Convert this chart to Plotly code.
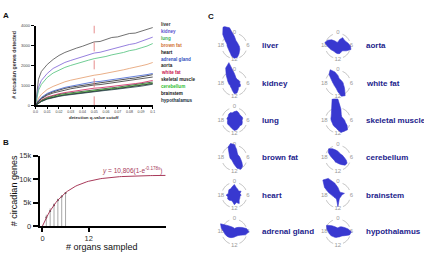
import math
import plotly.graph_objects as go

W, H = 424, 259
def fx(x): return x / W
def fy(y): return 1 - y / H

# ---------------- Panel A data ----------------
q_cutoff = [0, 0.0025, 0.005, 0.01, 0.015, 0.02, 0.025, 0.03, 0.035, 0.04, 0.045,
            0.05, 0.055, 0.06, 0.065, 0.07, 0.075, 0.08, 0.085, 0.09, 0.095, 0.1]
q_threshold = 0.05
organs = ["liver", "kidney", "lung", "brown fat", "heart", "adrenal gland", "aorta",
          "white fat", "skeletal muscle", "cerebellum", "brainstem", "hypothalamus"]
liver = [0, 1300, 1700, 2050, 2300, 2500, 2650, 2780, 2870, 2960, 3080, 3180, 3200, 3300, 3400, 3430, 3520, 3600, 3620, 3720, 3800, 3900]
kidney = [0, 900, 1250, 1600, 1850, 2000, 2150, 2250, 2350, 2430, 2520, 2620, 2660, 2740, 2830, 2880, 2960, 3050, 3100, 3200, 3300, 3420]
lung = [0, 750, 1050, 1400, 1620, 1780, 1900, 2000, 2100, 2180, 2260, 2340, 2380, 2450, 2530, 2580, 2650, 2740, 2790, 2880, 2970, 3100]
brown_fat = [0, 350, 550, 800, 950, 1080, 1180, 1260, 1330, 1400, 1450, 1510, 1550, 1600, 1680, 1720, 1780, 1850, 1900, 1980, 2050, 2150]
heart = [0, 220, 360, 560, 680, 770, 850, 910, 960, 1010, 1060, 1110, 1130, 1170, 1220, 1250, 1290, 1340, 1370, 1420, 1470, 1540]
adrenal_gland = [0, 250, 400, 600, 720, 820, 900, 960, 1020, 1080, 1130, 1180, 1200, 1240, 1290, 1320, 1360, 1410, 1440, 1490, 1540, 1600]
aorta = [0, 200, 330, 510, 620, 700, 770, 830, 880, 930, 970, 1020, 1040, 1080, 1120, 1150, 1190, 1240, 1270, 1310, 1360, 1420]
white_fat = [0, 160, 270, 420, 510, 580, 640, 690, 730, 770, 810, 860, 880, 910, 950, 980, 1020, 1060, 1090, 1130, 1180, 1250]
skeletal_muscle = [0, 140, 240, 380, 470, 540, 590, 630, 670, 710, 750, 790, 810, 850, 880, 910, 950, 990, 1020, 1060, 1110, 1170]
cerebellum = [0, 130, 220, 350, 440, 500, 550, 590, 630, 670, 710, 750, 770, 810, 840, 870, 910, 950, 980, 1020, 1070, 1120]
brainstem = [0, 120, 200, 330, 410, 470, 520, 560, 600, 640, 680, 720, 740, 780, 810, 840, 880, 920, 950, 990, 1040, 1090]
hypothalamus = [0, 110, 190, 310, 390, 450, 500, 540, 580, 620, 660, 700, 720, 750, 780, 810, 850, 890, 920, 960, 1010, 1060]
a_series = [liver, kidney, lung, brown_fat, heart, adrenal_gland, aorta, white_fat,
            skeletal_muscle, cerebellum, brainstem, hypothalamus]
a_line_colors = ["#4d4d4d", "#7b5fd6", "#4cc07a", "#e39a6a", "#222222", "#3f5fcf",
                 "#333333", "#d0215a", "#2b3b2b", "#44cc33", "#1a1a1a", "#26464a"]
a_text_colors = ["#333333", "#5b4fcf", "#3cb05a", "#d07030", "#111111", "#3050c0",
                 "#222222", "#c8104a", "#222222", "#30c030", "#111111", "#203040"]
a_xticks = [0, 0.01, 0.02, 0.03, 0.04, 0.05, 0.06, 0.07, 0.08, 0.09, 0.1]
a_xticktext = ["0.0", "0.01", "0.02", "0.03", "0.04", "0.05", "0.06", "0.07", "0.08", "0.09", "0.1"]
a_yticks = [0, 1000, 2000, 3000, 4000]

# ---------------- Panel B data ----------------
n_sampled = [1, 2, 3, 4, 5, 6]
range_top = [2400, 3770, 4800, 5820, 6500, 7200]
mean_genes = [1800, 3200, 4400, 5500, 6300, 7000]
fit_A = 10806
fit_k = 0.178
fit_x = [i * 0.5 for i in range(0, 65)]
b_yticks = [0, 5000, 10000, 15000]
b_yticktext = ["0", "5k", "10k", "15k"]
b_xticks = [0, 12]

# ---------------- Panel C data (phase distributions, 24 h bins) ----------------
hours = list(range(24))
phase = {
    "liver": [10, 6, 5, 4.5, 4.4, 4.4, 5, 5.5, 6.5, 7.5, 9.5, 12, 12.7, 11, 8.5, 7.5, 7, 7, 7.5, 8, 11, 17, 23.5, 19.5],
    "kidney": [10, 6, 5, 5, 5.5, 6, 5.5, 6.5, 7, 6, 8, 10.5, 11, 8, 6, 5.5, 5, 5.5, 6, 7, 8.5, 12, 18, 22],
    "lung": [9, 10, 9, 8, 8.5, 9, 8, 8.5, 9, 8, 9, 10, 10.5, 9, 8, 7.5, 8, 7.5, 7, 8, 7.5, 8.5, 9, 8],
    "brown fat": [14, 9, 6, 5, 5, 5.5, 6, 7, 9, 12, 13.5, 11, 7, 5, 4, 3.5, 3.5, 4, 4.5, 5, 6, 8, 13, 15.5],
    "heart": [11, 8, 7, 6, 8, 6, 7, 6, 6.5, 7, 10, 8, 10, 7, 6.5, 7.5, 8, 7, 8.5, 6.5, 7, 8, 7.5, 9],
    "adrenal gland": [3.5, 4, 5, 6.5, 9, 13, 15, 12, 7, 5.5, 5, 5, 5.5, 6, 7, 8, 9, 10, 11, 14, 16.5, 9, 6, 4.5],
    "aorta": [4, 7, 10, 9, 9.5, 11, 13, 14, 10, 7, 7, 8, 8, 7.5, 7, 7, 8, 9, 11, 14, 12, 9, 6, 4],
    "white fat": [8, 5, 4.5, 4.5, 4.5, 5, 5.5, 6, 7.5, 10, 15, 14, 9, 6, 5, 4.5, 4.5, 4.5, 5, 6, 8, 13, 16, 12],
    "skeletal muscle": [22, 12, 7, 5.5, 5.5, 6, 7, 8, 11, 14, 13, 13, 10, 8, 7.5, 7, 6.5, 6.5, 7, 7.5, 8, 9.5, 13, 23],
    "cerebellum": [7, 5.5, 5, 5, 5.5, 6, 7, 9, 11, 10.5, 8, 6.5, 5.5, 5, 5, 4.5, 4.5, 5, 6, 8, 11.5, 13.5, 11, 8.5],
    "brainstem": [8, 5, 4, 4, 5, 7, 4, 3.5, 3.5, 3.5, 3.5, 5, 12, 5, 4, 4, 4.5, 5, 6.5, 10, 16, 22, 20, 13],
    "hypothalamus": [4, 5, 6, 7, 8.5, 11, 14, 12.5, 8, 6, 5.5, 5.5, 5.5, 6, 6.5, 7, 8, 9, 10, 12, 13.5, 9, 6, 4.5],
}
c_left = ["liver", "kidney", "lung", "brown fat", "heart", "adrenal gland"]
c_right = ["aorta", "white fat", "skeletal muscle", "cerebellum", "brainstem", "hypothalamus"]
clock_labels = ["0", "6", "12", "18"]
clock_hours = [0, 6, 12, 18]

fig = go.Figure()

def note(x, y, text, size, color, xanchor="center", yanchor="middle", angle=0):
    fig.add_annotation(x=fx(x), y=fy(y), xref="paper", yref="paper", text=text, showarrow=False,
                       xanchor=xanchor, yanchor=yanchor, textangle=angle,
                       font=dict(size=size, color=color, family="Liberation Sans"))

# ---- Panel A traces
for name, vals, col in zip(organs, a_series, a_line_colors):
    fig.add_trace(go.Scatter(x=q_cutoff, y=vals, mode="lines", line=dict(color=col, width=0.8),
                             xaxis="x", yaxis="y", name=name, hoverinfo="skip"))
fig.add_shape(type="line", xref="x", yref="y", x0=q_threshold, x1=q_threshold, y0=0, y1=4000,
              line=dict(color="#e07070", width=0.8, dash="dash"))

# ---- Panel B traces
seg_x, seg_y = [], []
for n, t in zip(n_sampled, range_top):
    seg_x += [n, n, None]
    seg_y += [0, t, None]
fig.add_trace(go.Scatter(x=seg_x, y=seg_y, mode="lines", line=dict(color="#a8a8a8", width=1),
                         xaxis="x2", yaxis="y2", hoverinfo="skip"))
fig.add_trace(go.Scatter(x=n_sampled, y=mean_genes, mode="markers",
                         marker=dict(color="#555555", size=2), xaxis="x2", yaxis="y2", hoverinfo="skip"))
fit_y = [fit_A * (1 - math.exp(-fit_k * x)) for x in fit_x]
fig.add_trace(go.Scatter(x=fit_x, y=fit_y, mode="lines", line=dict(color="#a83a5a", width=1),
                         xaxis="x2", yaxis="y2", hoverinfo="skip"))

# ---- Panel C polar subplots
row_y = [43.5, 82, 120.5, 159.5, 198, 236]
col_x = [234.7, 339.7]
R = 23
ring_r = 13
arc_theta = []
for start in [0, 90, 180, 270]:
    arc_theta += [start + d for d in range(22, 70, 4)] + [None]
polar_layouts = {}
idx = 0
for ci, names in enumerate([c_left, c_right]):
    for ri, name in enumerate(names):
        idx += 1
        key = "polar" if idx == 1 else f"polar{idx}"
        cx, cy = col_x[ci], row_y[ri]
        polar_layouts[key] = dict(
            domain=dict(x=[fx(cx - R), fx(cx + R)], y=[max(0, fy(cy + R)), min(1, fy(cy - R))]),
            bgcolor="rgba(0,0,0,0)",
            radialaxis=dict(visible=False, range=[0, R]),
            angularaxis=dict(visible=False, rotation=90, direction="clockwise"),
        )
        fig.add_trace(go.Scatterpolar(r=[ring_r if t is not None else None for t in arc_theta],
                                      theta=arc_theta, mode="lines",
                                      line=dict(color="#b0b0b0", width=0.8), subplot=key,
                                      connectgaps=False, hoverinfo="skip"))
        fig.add_trace(go.Scatterpolar(r=[ring_r + 1] * 4, theta=[h * 15 for h in clock_hours],
                                      mode="text", text=clock_labels,
                                      textfont=dict(size=6, color="#9a9a9a", family="Liberation Sans"),
                                      subplot=key, hoverinfo="skip"))
        vals = phase[name]
        fig.add_trace(go.Scatterpolar(r=vals + [vals[0]], theta=[h * 15 for h in hours] + [0],
                                      mode="lines", fill="toself", fillcolor="#3838d0",
                                      line=dict(color="#3838d0", width=0.6), subplot=key,
                                      hoverinfo="skip"))
        note(261 if ci == 0 else 366, cy, f"<b>{name}</b>", 8, "#23238c", xanchor="left")

# ---- Annotations: panel A legend + titles
for i, (name, col) in enumerate(zip(organs, a_text_colors)):
    note(158, 21.5 + i * 7.1, f"<b>{name}</b>", 4.6, col, xanchor="left")
note(11, 63, "<b># circadian genes detected</b>", 5.3, "#333", angle=-90)
note(92, 118, "<b>detection q-value cutoff</b>", 4.4, "#333")
note(11, 193, "# circadian genes", 9, "#111", angle=-90)
note(100, 252, "# organs sampled", 9, "#111")
note(163, 172, "<i>y</i> = 10,806(1-e<sup>-0.178x</sup>)", 6.5, "#a83a5a", xanchor="right")
for lab, (x, y) in {"A": (3, 12), "B": (3, 143), "C": (211, 13)}.items():
    note(x, y, f"<b>{lab}</b>", 8, "#111")

axis_common = dict(showgrid=False, zeroline=False, showline=True, linecolor="black", ticks="outside",
                   tickcolor="black")
fig.update_layout(
    width=W, height=H, margin=dict(l=0, r=0, t=0, b=0), paper_bgcolor="white", plot_bgcolor="white",
    showlegend=False,
    xaxis=dict(domain=[fx(33), fx(152)], range=[0, 0.1], tickvals=a_xticks, ticktext=a_xticktext,
               linewidth=1.5, ticklen=2, tickwidth=1, anchor="y",
               tickfont=dict(size=3.6, color="#444", family="Liberation Sans"), **axis_common),
    yaxis=dict(domain=[fy(105), fy(22.3)], range=[0, 4000], tickvals=a_yticks, linewidth=1.5, ticklen=3,
               tickwidth=1, anchor="x",
               tickfont=dict(size=4, color="#444", family="Liberation Sans"), **axis_common),
    xaxis2=dict(domain=[fx(37.3), fx(165)], range=[-0.7, 32], tickvals=b_xticks, linewidth=2, ticklen=4,
                tickwidth=2, anchor="y2",
                tickfont=dict(size=7.5, color="#333", family="Liberation Sans"), **axis_common),
    yaxis2=dict(domain=[fy(230), fy(157)], range=[0, 15000], tickvals=b_yticks, ticktext=b_yticktext,
                linewidth=2, ticklen=5, tickwidth=2, anchor="x2",
                tickfont=dict(size=7.5, color="#333", family="Liberation Sans"), **axis_common),
    **polar_layouts,
)

fig.write_html("out.html")
